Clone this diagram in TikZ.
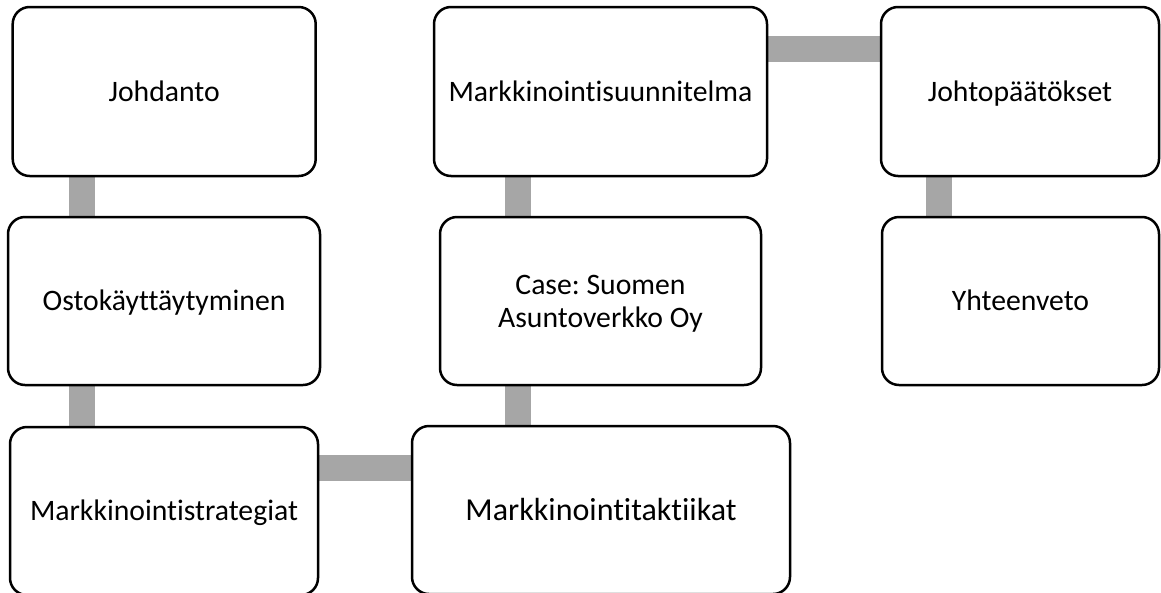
\documentclass[tikz,border=0pt]{standalone}
\usepackage{fontspec}
\setmainfont{Carlito}[Ligatures=NoCommon]
\frenchspacing
\usetikzlibrary{backgrounds}
\definecolor{linkgray}{RGB}{166,166,166}
\tikzset{
  stagebox/.style={draw=black, line width=2.5pt, fill=white, rounded corners=17pt,
    align=center, inner sep=4pt, font=\fontsize{29.7}{33}\selectfont},
  oneline/.style={text height=22pt, text depth=3pt},
  linkbar/.style={draw=linkgray, line width=26pt, line cap=butt}
}
\begin{document}
\begin{tikzpicture}[x=1pt, y=-1pt]
  \useasboundingbox (0,0) rectangle (1161,592);
  \clip (0,0) rectangle (1161,592);

  % stages
  \node[stagebox, oneline, minimum width=303pt, minimum height=169pt] (johd) at (164.2,91.5) {Johdanto};
  \node[stagebox, oneline, minimum width=312pt, minimum height=168pt] (osto) at (164,301) {Ostokäyttäytyminen};
  \node[stagebox, oneline, minimum width=308pt, minimum height=168pt] (strat) at (164,511) {Markkinointistrategiat};
  \node[stagebox, minimum width=378pt, minimum height=168pt, font=\fontsize{32}{38}\selectfont,
        text height=23.6pt, text depth=3pt] (takt) at (601,510) {Markkinointitaktiikat};
  \node[stagebox, minimum width=321pt, minimum height=168pt,
        text height=55pt, text depth=2pt] (case) at (600.5,301) {Case: Suomen\\Asuntoverkko Oy};
  \node[stagebox, oneline, minimum width=333pt, minimum height=169pt] (suun) at (600.5,91.5) {Markkinointisuunnitelma};
  \node[stagebox, oneline, minimum width=278pt, minimum height=169pt] (johto) at (1020,91.5) {Johtopäätökset};
  \node[stagebox, oneline, minimum width=277pt, minimum height=168pt] (yht) at (1020.5,301) {Yhteenveto};

  % columns and rows of the link bars
  \coordinate (colL) at (81.5,0);
  \coordinate (colM) at (517.5,0);
  \coordinate (colR) at (939,0);
  \coordinate (rowB) at (0,468);
  \coordinate (rowT) at (0,48.5);

  % link bars behind the stages
  \begin{scope}[on background layer]
    \draw[linkbar] (johd.south -| colL) -- (osto.north -| colL);
    \draw[linkbar] (osto.south -| colL) -- (strat.north -| colL);
    \draw[linkbar] (strat.east |- rowB) -- (takt.west |- rowB);
    \draw[linkbar] (takt.north -| colM) -- (case.south -| colM);
    \draw[linkbar] (case.north -| colM) -- (suun.south -| colM);
    \draw[linkbar] (suun.east |- rowT) -- (johto.west |- rowT);
    \draw[linkbar] (johto.south -| colR) -- (yht.north -| colR);
  \end{scope}
\end{tikzpicture}
\end{document}
